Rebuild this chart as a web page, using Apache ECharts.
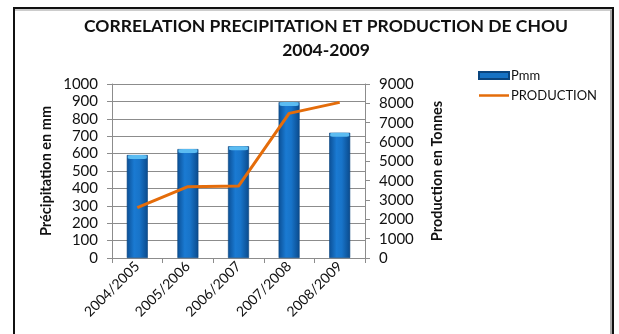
<!DOCTYPE html>
<html>
<head>
<meta charset="utf-8">
<script src="https://cdn.jsdelivr.net/npm/echarts@6/dist/echarts.min.js"></script>
<style>
  html, body { margin: 0; padding: 0; background: #fff; }
  #chart { width: 619px; height: 334px; }
</style>
</head>
<body>
<div id="chart"></div>
<script>
// Campaigns, rainfall (mm) and cabbage production (tonnes)
const seasons = ['2004/2005', '2005/2006', '2006/2007', '2007/2008', '2008/2009'];
const rainfallMm = [592, 626, 642, 896, 720];
const productionT = [2600, 3690, 3720, 7480, 8050];
const leftTicks = [0, 1000];   // min / max of the rainfall axis
const rightTicks = [0, 9000];  // min / max of the production axis

const FONT = 'Lato, "Open Sans", sans-serif';
const chart = echarts.init(document.getElementById('chart'), null, { renderer: 'canvas' });

const barFill = new echarts.graphic.LinearGradient(0, 0, 1, 0, [
  { offset: 0, color: '#0b4f95' },
  { offset: 0.35, color: '#1a7ad2' },
  { offset: 0.6, color: '#1874c9' },
  { offset: 1, color: '#0a4a8c' }
]);
const plain = v => String(v);

chart.setOption({
  animation: false,
  graphic: [
    { type: 'rect', shape: { x: 14, y: 8, width: 599, height: 340 },
      style: { fill: 'none', stroke: '#111', lineWidth: 2 }, z: 100 },
    { type: 'line', shape: { x1: 15, y1: 10, x2: 612, y2: 10 },
      style: { stroke: '#bbb', lineWidth: 1.5 }, z: 99 },
    { type: 'line', shape: { x1: 611, y1: 10, x2: 611, y2: 334 },
      style: { stroke: '#aaa', lineWidth: 2 }, z: 99 }
  ],
  title: {
    text: 'CORRELATION PRECIPITATION ET PRODUCTION DE CHOU\n2004-2009',
    left: 321, top: 9, textAlign: 'center',
    textStyle: { fontFamily: FONT, fontWeight: 'bold', fontSize: 17.5, color: '#111', lineHeight: 24 }
  },
  legend: {
    orient: 'vertical', left: 473, top: 64, itemGap: 7,
    itemWidth: 30, itemHeight: 7,
    textStyle: { fontFamily: FONT, fontSize: 13, color: '#111', padding: [0, 0, 0, -3] },
    data: [
      { name: 'Pmm', icon: 'rect', itemStyle: { color: '#1672c4' } },
      { name: 'PRODUCTION', icon: 'path://M0,0 L30,0 L30,2.5 L0,2.5 Z', itemStyle: { color: '#e46c0a' } }
    ]
  },
  grid: { left: 112, right: 254, top: 84, bottom: 76 },
  xAxis: {
    type: 'category', data: seasons,
    axisLine: { lineStyle: { color: '#8c8c8c' } },
    axisTick: { show: true, alignWithLabel: false, length: 5, lineStyle: { color: '#8c8c8c' } },
    axisLabel: { rotate: 45, fontFamily: FONT, fontSize: 14, color: '#111', margin: 6, interval: 0 }
  },
  yAxis: [
    {
      type: 'value', min: leftTicks[0], max: leftTicks[1], interval: 100,
      name: 'Précipitation en mm', nameLocation: 'middle', nameGap: 58, nameRotate: 90,
      nameTextStyle: { fontFamily: FONT, fontWeight: 'bold', fontSize: 14.5, color: '#111' },
      axisLine: { show: true, lineStyle: { color: '#8c8c8c' } },
      axisTick: { show: true, length: 5, lineStyle: { color: '#8c8c8c' } },
      axisLabel: { fontFamily: FONT, fontSize: 15, color: '#111', margin: 14, formatter: plain },
      splitLine: { lineStyle: { color: '#8c8c8c' } }
    },
    {
      type: 'value', min: rightTicks[0], max: rightTicks[1], interval: 1000,
      name: 'Production en Tonnes', nameLocation: 'middle', nameGap: 65, nameRotate: 90,
      nameTextStyle: { fontFamily: FONT, fontWeight: 'bold', fontSize: 14.5, color: '#111' },
      axisLine: { show: true, lineStyle: { color: '#8c8c8c' } },
      axisTick: { show: true, length: 5, lineStyle: { color: '#8c8c8c' } },
      axisLabel: { fontFamily: FONT, fontSize: 15, color: '#111', margin: 14, formatter: plain },
      splitLine: { show: false }
    }
  ],
  series: [
    {
      name: 'Pmm', type: 'bar', yAxisIndex: 0, data: rainfallMm, barWidth: 21,
      itemStyle: { color: barFill, borderColor: '#0a457f', borderWidth: 0.6 }
    },
    {
      // light cap on top of each cylinder
      name: 'Pmm', type: 'pictorialBar', yAxisIndex: 0, data: rainfallMm,
      symbol: 'roundRect', symbolSize: [19, 4], symbolPosition: 'end', symbolOffset: [0, 0],
      itemStyle: { color: '#5bbcf2' }, silent: true, z: 3
    },
    {
      name: 'PRODUCTION', type: 'line', yAxisIndex: 1, data: productionT,
      symbol: 'none', lineStyle: { color: '#e46c0a', width: 3 }, z: 5
    }
  ]
});
</script>
</body>
</html>
